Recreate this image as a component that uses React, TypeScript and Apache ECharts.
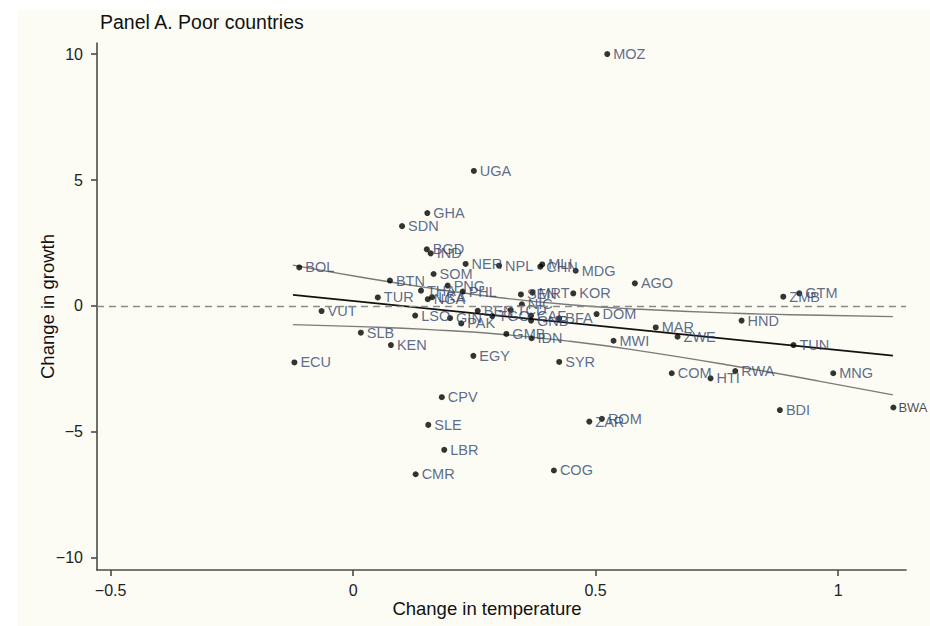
import React, { useEffect, useRef } from "react";
import * as echarts from "echarts";

const codes = [
  "MOZ", "UGA", "GHA", "SDN", "BGD", "IND", "NER", "NPL", "MLI", "CHN",
  "MDG", "AGO", "KOR", "ZMB", "GTM", "DOM", "HND", "MAR", "ZWE", "MWI",
  "TUN", "SYR", "COM", "HTI", "RWA", "MNG", "BDI", "BWA", "ROM", "ZAR",
  "COG", "CPV", "SLE", "LBR", "CMR", "EGY", "ECU", "BOL", "VUT", "SLB",
  "KEN", "TUR", "BTN", "SOM", "LSO", "THA", "PNG", "PHL", "NGA", "LKA",
  "MRT", "SEN", "NIC", "BEN", "TCD", "GIN", "PAK", "TGO", "CAF", "GNB",
  "BFA", "GMB", "IDN",
];

const tempChange = [
  0.524, 0.249, 0.153, 0.101, 0.152, 0.160, 0.232, 0.301, 0.390, 0.386,
  0.459, 0.581, 0.454, 0.887, 0.920, 0.502, 0.801, 0.624, 0.669, 0.537,
  0.908, 0.425, 0.657, 0.737, 0.788, 0.990, 0.880, 1.114, 0.513, 0.487,
  0.414, 0.183, 0.155, 0.188, 0.129, 0.248, -0.121, -0.111, -0.065, 0.016,
  0.078, 0.051, 0.076, 0.166, 0.128, 0.140, 0.195, 0.226, 0.154, 0.163,
  0.370, 0.346, 0.348, 0.257, 0.325, 0.200, 0.223, 0.287, 0.367, 0.367,
  0.425, 0.316, 0.368,
];

const growthChange = [
  10.0, 5.36, 3.69, 3.17, 2.25, 2.09, 1.67, 1.60, 1.65, 1.56,
  1.40, 0.90, 0.50, 0.37, 0.50, -0.32, -0.58, -0.85, -1.22, -1.38,
  -1.55, -2.22, -2.67, -2.87, -2.58, -2.67, -4.13, -4.03, -4.48, -4.59,
  -6.53, -3.62, -4.72, -5.71, -6.68, -1.98, -2.24, 1.53, -0.20, -1.06,
  -1.55, 0.34, 1.01, 1.27, -0.38, 0.61, 0.81, 0.57, 0.27, 0.35,
  0.53, 0.46, 0.07, -0.19, -0.16, -0.48, -0.69, -0.40, -0.38, -0.58,
  -0.49, -1.11, -1.28,
];

const fitX = [-0.124, 1.113];
const fitY = [0.44, -1.97];

const ciX = [-0.124, 0.014, 0.159, 0.303, 0.447, 0.592, 0.788, 0.963, 1.113];
const ciUpper = [1.62, 1.15, 0.71, 0.33, 0.05, -0.13, -0.29, -0.37, -0.42];
const ciLower = [-0.74, -0.82, -0.94, -1.12, -1.4, -1.78, -2.39, -2.99, -3.53];

const xTicks = [-0.5, 0, 0.5, 1];
const yTicks = [-10, -5, 0, 5, 10];

const FONT = '"Liberation Sans", Arial, Helvetica, sans-serif';

const fmt = (v: number) => String(v).replace("-", "\u2212");

export default function App() {
  const ref = useRef<HTMLDivElement>(null);

  useEffect(() => {
    document.body.style.margin = "0";
    if (!ref.current) return;
    const chart = echarts.init(ref.current, undefined, { renderer: "svg" });

    const axisLineStyle = { color: "#4a4a4a", width: 1.6 };

    chart.setOption({
      animation: false,
      backgroundColor: "#ffffff",
      textStyle: { fontFamily: FONT },
      graphic: [
        {
          type: "rect",
          silent: true,
          z: -10,
          shape: { x: 17, y: 10, width: 913, height: 616 },
          style: { fill: "#fcfcf5" },
        },
      ],
      title: {
        text: "Panel A. Poor countries",
        left: 95,
        top: 7,
        textStyle: {
          fontFamily: FONT,
          fontSize: 19.5,
          fontWeight: "normal",
          color: "#111",
        },
      },
      grid: { left: 97, right: 24, top: 43, bottom: 56 },
      xAxis: {
        type: "value",
        min: -0.528,
        max: 1.14,
        name: "Change in temperature",
        nameLocation: "middle",
        nameGap: 29,
        nameMoveOverlap: false,
        nameTextStyle: {
          fontFamily: FONT,
          fontSize: 18.5,
          color: "#111",
          padding: [0, 29, 0, 0],
        },
        axisLine: { show: true, onZero: false, lineStyle: axisLineStyle },
        axisTick: {
          show: true,
          length: 6,
          customValues: xTicks,
          lineStyle: axisLineStyle,
        },
        axisLabel: {
          customValues: xTicks,
          formatter: (v: number) => fmt(v),
          fontFamily: FONT,
          fontSize: 16,
          color: "#222",
          margin: 12,
        },
        splitLine: { show: false },
      },
      yAxis: {
        type: "value",
        min: -10.48,
        max: 10.44,
        name: "Change in growth",
        nameLocation: "middle",
        nameGap: 40,
        nameMoveOverlap: false,
        nameTextStyle: { fontFamily: FONT, fontSize: 18.5, color: "#111" },
        axisLine: { show: true, onZero: false, lineStyle: axisLineStyle },
        axisTick: {
          show: true,
          length: 6,
          customValues: yTicks,
          lineStyle: axisLineStyle,
        },
        axisLabel: {
          customValues: yTicks,
          formatter: (v: number) => fmt(v),
          fontFamily: FONT,
          fontSize: 16,
          color: "#222",
          margin: 14,
        },
        splitLine: { show: false },
      },
      series: [
        {
          type: "line",
          data: [],
          silent: true,
          markLine: {
            silent: true,
            symbol: "none",
            label: { show: false },
            lineStyle: { type: [7, 5], color: "#8a8a8a", width: 1.3 },
            data: [{ yAxis: 0 }],
          },
        },
        {
          type: "line",
          data: ciX.map((x, i) => [x, ciUpper[i]]),
          smooth: true,
          symbol: "none",
          silent: true,
          lineStyle: { color: "#7a7a7a", width: 1.4 },
          z: 2,
        },
        {
          type: "line",
          data: ciX.map((x, i) => [x, ciLower[i]]),
          smooth: true,
          symbol: "none",
          silent: true,
          lineStyle: { color: "#7a7a7a", width: 1.4 },
          z: 2,
        },
        {
          type: "line",
          data: fitX.map((x, i) => [x, fitY[i]]),
          symbol: "none",
          silent: true,
          lineStyle: { color: "#111", width: 1.8 },
          z: 3,
        },
        {
          type: "scatter",
          symbol: "circle",
          symbolSize: 6,
          itemStyle: { color: "#000" },
          z: 4,
          data: codes.map((c, i) => ({
            name: c,
            value: [tempChange[i], growthChange[i]],
            label:
              c === "BWA"
                ? { color: "#1a1a1a", fontSize: 13, distance: 2 }
                : undefined,
          })),
          label: {
            show: true,
            position: "right",
            distance: 3,
            formatter: "{b}",
            fontFamily: FONT,
            fontSize: 14.5,
            color: "#34456c",
          },
        },
      ],
    });

    return () => chart.dispose();
  }, []);

  return <div ref={ref} style={{ width: 930, height: 626 }} />;
}
